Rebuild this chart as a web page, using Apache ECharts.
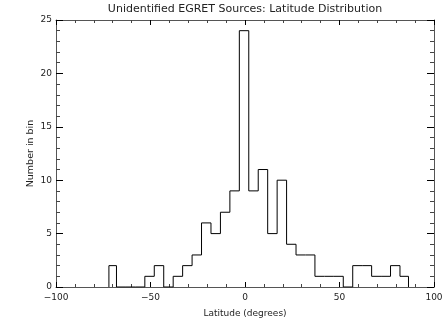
<!DOCTYPE html>
<html>
<head>
<meta charset="utf-8">
<script src="https://cdn.jsdelivr.net/npm/echarts@6/dist/echarts.min.js"></script>
<style>
  html, body { margin: 0; padding: 0; background: #fff; }
  #chart { width: 446px; height: 319px; }
</style>
</head>
<body>
<div id="chart"></div>
<script>
// 直方图的分箱边界（纬度，度）和每个箱里的源数量
const binEdges = [-72, -68, -63, -58, -53, -48, -43, -38, -33, -28, -23, -18, -13, -8, -3,
    2, 7, 12, 17, 22, 27, 32, 37, 42, 47, 52, 57, 62, 67, 72, 77, 82, 86.5];
const counts = [2, 0, 0, 0, 1, 2, 0, 1, 2, 3, 6, 5, 7, 9, 24,
    9, 11, 5, 10, 4, 3, 3, 1, 1, 1, 0, 2, 2, 1, 1, 2, 1];
const xTicks = [-100, -50, 0, 50, 100];
const yTicks = [0, 5, 10, 15, 20, 25];

const textColor = '#222';
const axisColor = '#555';
const font = 'DejaVu Sans, sans-serif';

// 把分箱转成阶梯线的点
function buildSteps() {
    const pts = [[binEdges[0], 0]];
    for (let i = 0; i < counts.length; i++) {
        pts.push([binEdges[i], counts[i]]);
        pts.push([binEdges[i + 1], counts[i]]);
    }
    pts.push([binEdges[binEdges.length - 1], 0]);
    return pts;
}

function fmtNum(v) {
    return String(v).replace('-', '\u2212');
}

const chart = echarts.init(document.getElementById('chart'));

const xBase = {
    type: 'value',
    min: xTicks[0],
    max: xTicks[xTicks.length - 1],
    interval: 50,
    splitLine: { show: false },
    axisLine: { show: true, onZero: false, lineStyle: { color: axisColor, width: 1 } },
    axisTick: { show: true, inside: true, length: 5, lineStyle: { color: '#000' } },
    minorTick: { show: true, splitNumber: 5, length: 3, lineStyle: { color: '#444' } }
};
const yBase = {
    type: 'value',
    min: yTicks[0],
    max: yTicks[yTicks.length - 1],
    interval: 5,
    splitLine: { show: false },
    axisLine: { show: true, onZero: false, lineStyle: { color: axisColor, width: 1 } },
    axisTick: { show: true, inside: true, length: 7, lineStyle: { color: '#000' } },
    minorTick: { show: true, splitNumber: 5, length: 4, lineStyle: { color: '#444' } }
};

const option = {
    animation: false,
    backgroundColor: '#fff',
    title: {
        text: 'Unidentified EGRET Sources: Latitude Distribution',
        left: 245,
        top: 4,
        padding: 0,
        textAlign: 'center',
        textStyle: { fontSize: 11, fontWeight: 'normal', color: textColor, fontFamily: font }
    },
    grid: { left: 56, top: 20, width: 378, height: 267, outerBoundsMode: 'none', containLabel: false },
    xAxis: [
        Object.assign({}, xBase, {
            position: 'bottom',
            name: 'Latitude (degrees)',
            nameLocation: 'middle',
            nameGap: 22,
            nameMoveOverlap: false,
            nameTextStyle: { fontSize: 9, color: textColor, fontFamily: font },
            axisLabel: { fontSize: 9, color: textColor, fontFamily: font, margin: 6, formatter: fmtNum }
        }),
        Object.assign({}, xBase, {
            position: 'top',
            axisLabel: { show: false }
        })
    ],
    yAxis: [
        Object.assign({}, yBase, {
            position: 'left',
            name: 'Number in bin',
            nameLocation: 'middle',
            nameGap: 20,
            nameMoveOverlap: false,
            nameTextStyle: { fontSize: 9.5, color: textColor, fontFamily: font },
            axisLabel: { fontSize: 9, color: textColor, fontFamily: font, margin: 4 }
        }),
        Object.assign({}, yBase, {
            position: 'right',
            axisLabel: { show: false }
        })
    ],
    series: [
        {
            type: 'line',
            xAxisIndex: 0,
            yAxisIndex: 0,
            data: buildSteps(),
            symbol: 'none',
            lineStyle: { color: '#000', width: 1 }
        }
    ]
};

chart.setOption(option);
</script>
</body>
</html>
